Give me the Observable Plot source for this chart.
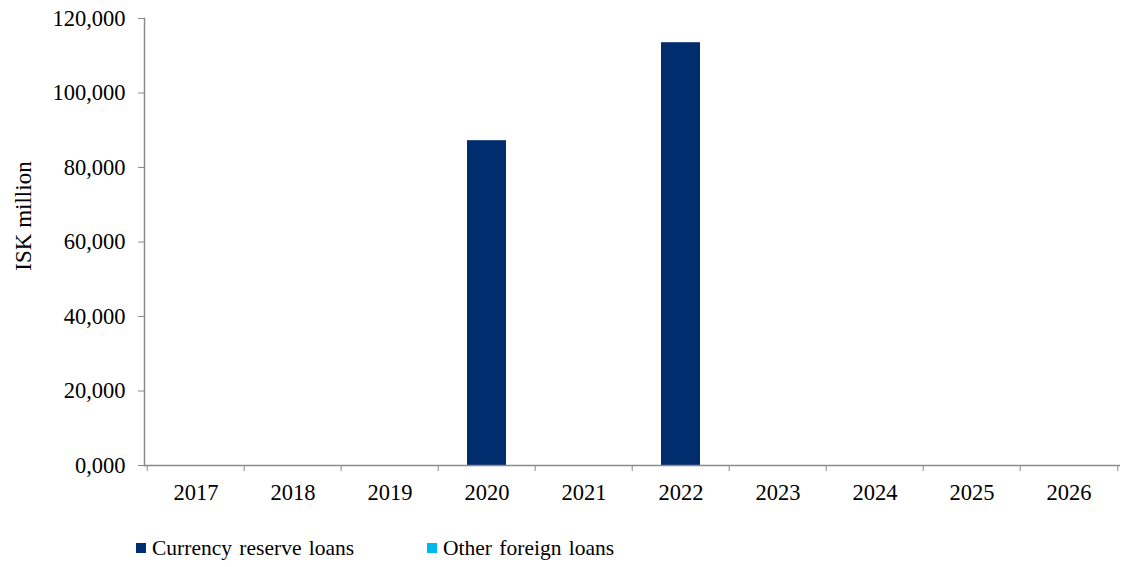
<!DOCTYPE html>
<html>
<head>
<meta charset="utf-8">
<script src="https://cdn.jsdelivr.net/npm/d3@7"></script>
<script src="https://cdn.jsdelivr.net/npm/@observablehq/plot@0.6"></script>
<style>
  body { margin: 0; background: #fff; font-family: "Liberation Serif", "Times New Roman", serif; }
  #wrap { position: relative; width: 1121px; height: 567px; }
  #legend { position: relative; height: 57px; }
  .item { position: absolute; top: 27px; height: 22px; line-height: 22px; display: flex; align-items: center; font-size: 21.5px; color: #000; white-space: nowrap; word-spacing: 2px; }
  .sw { width: 10px; height: 10px; margin-right: 6px; }
  #ytitle { position: absolute; left: 23px; top: 216px; transform: translate(-50%, -50%) rotate(-90deg); font-size: 23px; line-height: 1; white-space: nowrap; color: #000; }
</style>
</head>
<body>
<div id="wrap">
  <div id="chart"></div>
  <div id="legend"></div>
  <div id="ytitle"></div>
</div>
<script>
const years = ["2017", "2018", "2019", "2020", "2021", "2022", "2023", "2024", "2025", "2026"];
const currencyReserveLoans = [0, 0, 0, 87200, 0, 113500, 0, 0, 0, 0];
const otherForeignLoans = [0, 0, 0, 0, 0, 0, 0, 0, 0, 0];
const seriesNames = ["Currency reserve loans", "Other foreign loans"];
const seriesColors = ["#002d6e", "#00b8f0"];
const yTicks = [0, 20000, 40000, 60000, 80000, 100000, 120000];
const yTickLabels = ["0,000", "20,000", "40,000", "60,000", "80,000", "100,000", "120,000"];
const yTitle = "ISK million";

const data = years.flatMap((year, i) => [
  { year, series: seriesNames[0], value: currencyReserveLoans[i] },
  { year, series: seriesNames[1], value: otherForeignLoans[i] }
]);

const W = 1121, ML = 144, MR = 1;
const step = (W - ML - MR) / years.length;
const axisGray = "#8a8a8a";

const chart = Plot.plot({
  width: W,
  height: 510,
  marginLeft: ML,
  marginRight: MR,
  marginTop: 18,
  marginBottom: 45,
  style: { fontFamily: '"Liberation Serif", "Times New Roman", serif', fontSize: "22.5px", color: "#000", background: "#fff", overflow: "visible" },
  x: { domain: years, paddingInner: 0.6, paddingOuter: 0.3 },
  y: { domain: [0, 120000] },
  color: { domain: seriesNames, range: seriesColors },
  marks: [
    Plot.barY(data, { x: "year", y: "value", fill: "series" }),
    Plot.frame({ anchor: "left", stroke: axisGray, strokeWidth: 1.5 }),
    Plot.ruleY([0], { stroke: axisGray, strokeWidth: 1.5 }),
    Plot.axisY(yTicks, {
      tickSize: 6, tickPadding: 13, stroke: axisGray, fill: "#000", fontSize: 22.5,
      tickFormat: d => yTickLabels[yTicks.indexOf(d)], label: null
    }),
    Plot.axisX(years, { tickSize: 0, tickPadding: 19, fill: "#000", fontSize: 22.5, label: null }),
    Plot.axisX(years, { tickSize: 6, fill: "none", stroke: axisGray, dx: -step / 2, label: null }),
    Plot.axisX([years[years.length - 1]], { tickSize: 6, fill: "none", stroke: axisGray, dx: step / 2, label: null })
  ]
});
document.getElementById("chart").appendChild(chart);
document.getElementById("ytitle").textContent = yTitle;

const legend = document.getElementById("legend");
const lefts = [136, 427];
seriesNames.forEach((name, i) => {
  const item = document.createElement("div");
  item.className = "item";
  item.style.left = lefts[i] + "px";
  const sw = document.createElement("span");
  sw.className = "sw";
  sw.style.background = seriesColors[i];
  const t = document.createElement("span");
  t.textContent = name;
  item.appendChild(sw);
  item.appendChild(t);
  legend.appendChild(item);
});
</script>
</body>
</html>
